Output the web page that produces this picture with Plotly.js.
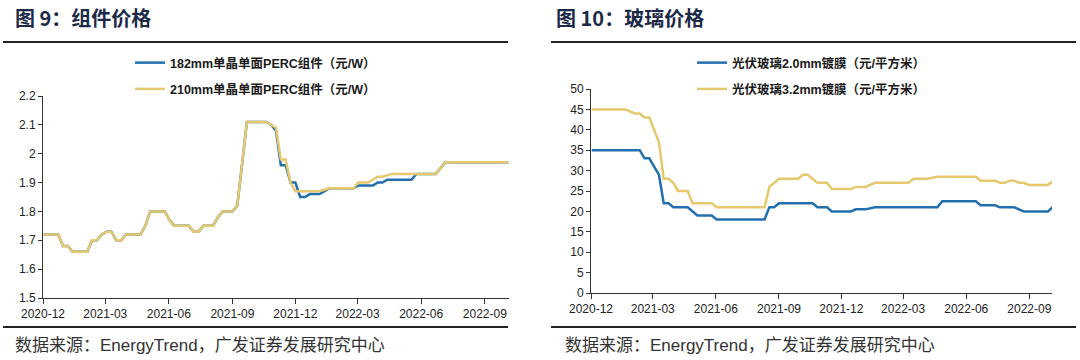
<!DOCTYPE html>
<html>
<head>
<meta charset="utf-8">
<script src="https://cdn.plot.ly/plotly-3.0.1.min.js"></script>
<style>html,body{margin:0;padding:0;background:#fff;}#chart{width:1080px;height:360px;}</style>
</head>
<body>
<div id="chart"></div>
<script>
// ---- 图9 组件价格 (元/W) ----
const moduleDates182 = ["2020-12-02","2020-12-23","2020-12-30","2021-01-06","2021-01-13","2021-02-03","2021-02-10","2021-02-17","2021-02-24","2021-03-03",
  "2021-03-10","2021-03-17","2021-03-24","2021-03-31","2021-04-21","2021-04-28","2021-05-05","2021-05-26","2021-06-02","2021-06-09",
  "2021-06-30","2021-07-07","2021-07-14","2021-07-21","2021-08-04","2021-08-11","2021-08-18","2021-09-01","2021-09-08","2021-09-15",
  "2021-09-22","2021-10-20","2021-10-27","2021-11-03","2021-11-10","2021-11-17","2021-11-24","2021-12-01","2021-12-08","2021-12-15",
  "2021-12-22","2022-01-05","2022-01-19","2022-02-23","2022-03-02","2022-03-23","2022-03-30","2022-04-06","2022-04-13","2022-05-18",
  "2022-05-25","2022-06-22","2022-07-06","2022-10-05"];
const module182 = [1.72,1.72,1.68,1.68,1.66,1.66,1.70,1.70,1.72,1.73,
  1.73,1.70,1.70,1.72,1.72,1.75,1.80,1.80,1.77,1.75,
  1.75,1.73,1.73,1.75,1.75,1.78,1.80,1.80,1.82,1.96,
  2.11,2.11,2.10,2.08,1.96,1.96,1.90,1.90,1.85,1.85,
  1.86,1.86,1.88,1.88,1.89,1.89,1.90,1.90,1.91,1.91,
  1.93,1.93,1.97,1.97];
const moduleDates210 = ["2020-12-02","2020-12-23","2020-12-30","2021-01-06","2021-01-13","2021-02-03","2021-02-10","2021-02-17","2021-02-24","2021-03-03",
  "2021-03-10","2021-03-17","2021-03-24","2021-03-31","2021-04-21","2021-04-28","2021-05-05","2021-05-26","2021-06-02","2021-06-09",
  "2021-06-30","2021-07-07","2021-07-14","2021-07-21","2021-08-04","2021-08-11","2021-08-18","2021-09-01","2021-09-08","2021-09-15",
  "2021-09-22","2021-10-20","2021-10-27","2021-11-03","2021-11-10","2021-11-17","2021-11-24","2021-12-01","2022-01-05","2022-01-19",
  "2022-02-23","2022-03-02","2022-03-16","2022-03-30","2022-04-06","2022-04-20","2022-06-22","2022-07-06","2022-10-05"];
const module210 = [1.72,1.72,1.68,1.68,1.66,1.66,1.70,1.70,1.72,1.73,
  1.73,1.70,1.70,1.72,1.72,1.75,1.80,1.80,1.77,1.75,
  1.75,1.73,1.73,1.75,1.75,1.78,1.80,1.80,1.82,1.96,
  2.11,2.11,2.10,2.09,1.98,1.98,1.90,1.87,1.87,1.88,
  1.88,1.90,1.90,1.92,1.92,1.93,1.93,1.97,1.97];

// ---- 图10 玻璃价格 (元/平方米) ----
const glassDates20 = ["2020-12-02","2021-02-10","2021-02-17","2021-02-24","2021-03-03","2021-03-10","2021-03-17","2021-03-24","2021-03-31","2021-04-21",
  "2021-05-05","2021-05-26","2021-06-02","2021-08-11","2021-08-18","2021-08-25","2021-09-01","2021-10-20","2021-10-27","2021-11-10",
  "2021-11-17","2021-12-15","2021-12-22","2022-01-05","2022-01-19","2022-04-20","2022-04-27","2022-06-15","2022-06-22","2022-07-13",
  "2022-07-20","2022-08-10","2022-08-24","2022-09-28","2022-10-05"];
const glass20 = [35,35,33,33,31,29,22,22,21,21,
  19,19,18,18,21,21,22,22,21,21,
  20,20,20.5,20.5,21,21,22.5,22.5,21.5,21.5,
  21,21,20,20,21];
const glassDates32 = ["2020-12-02","2021-01-20","2021-02-03","2021-02-10","2021-02-17","2021-02-24","2021-03-10","2021-03-17","2021-03-24","2021-03-31",
  "2021-04-07","2021-04-21","2021-04-28","2021-05-26","2021-06-02","2021-08-11","2021-08-18","2021-08-25","2021-09-01","2021-09-29",
  "2021-10-06","2021-10-13","2021-10-27","2021-11-10","2021-11-17","2021-12-15","2021-12-22","2022-01-05","2022-01-19","2022-03-09",
  "2022-03-16","2022-04-06","2022-04-20","2022-06-15","2022-06-22","2022-07-13","2022-07-20","2022-07-27","2022-08-03","2022-08-10",
  "2022-08-17","2022-08-24","2022-08-31","2022-09-28","2022-10-05"];
const glass32 = [45,45,44,44,43,43,37,28,28,27,
  25,25,22,22,21,21,26,27,28,28,
  29,29,27,27,25.5,25.5,26,26,27,27,
  28,28,28.5,28.5,27.5,27.5,27,27,27.5,27.5,
  27,27,26.5,26.5,27.3];

const names = {
  m182: "182mm单晶单面PERC组件（元/W）",
  m210: "210mm单晶单面PERC组件（元/W）",
  g20: "光伏玻璃2.0mm镀膜（元/平方米）",
  g32: "光伏玻璃3.2mm镀膜（元/平方米）"
};
const titles = ["图 9：组件价格", "图 10：玻璃价格"];
const source = "数据来源：EnergyTrend，广发证券发展研究中心";

const BLUE = "#2270b0", GOLD = "#e6c86e";
const W = 1080, H = 360;
const px = v => v / W, py = v => 1 - v / H;

const tickFont = {family: "Liberation Sans, Arial, sans-serif", size: 12, color: "#222"};
const legFont = {family: "Liberation Sans, 'Noto Sans CJK SC', sans-serif", size: 12.5, color: "#1a1a1a", weight: "bold"};
const titleFont = {family: "'Noto Sans CJK SC', sans-serif", size: 20, color: "#1c2a48", weight: "bold"};
const srcFont = {family: "Liberation Sans, 'Noto Sans CJK SC', sans-serif", size: 17, color: "#333"};

const traces = [
  {x: moduleDates182, y: module182, name: names.m182, type: "scatter", mode: "lines", line: {color: BLUE, width: 2.5}, xaxis: "x", yaxis: "y", legend: "legend", legendgroup: "a"},
  {x: moduleDates210, y: module210, name: names.m210, type: "scatter", mode: "lines", line: {color: GOLD, width: 2.5}, xaxis: "x", yaxis: "y", legend: "legend", legendgroup: "b"},
  {x: glassDates20, y: glass20, name: names.g20, type: "scatter", mode: "lines", line: {color: BLUE, width: 2.5}, xaxis: "x2", yaxis: "y2", legend: "legend2", legendgroup: "c"},
  {x: glassDates32, y: glass32, name: names.g32, type: "scatter", mode: "lines", line: {color: GOLD, width: 2.5}, xaxis: "x2", yaxis: "y2", legend: "legend2", legendgroup: "d"}
];

const xCommon = {type: "date", dtick: "M3", tick0: "2020-12-01", tickformat: "%Y-%m", showgrid: false, zeroline: false,
  showline: true, linecolor: "#333", linewidth: 1, ticks: "outside", ticklen: 5, tickcolor: "#333", tickfont: tickFont};
const yCommon = {showgrid: false, zeroline: false, showline: true, linecolor: "#333", linewidth: 1,
  ticks: "outside", ticklen: 4, tickcolor: "#333", tickfont: tickFont};

const legCommon = {font: legFont, bgcolor: "rgba(0,0,0,0)", traceorder: "grouped", tracegroupgap: 7,
  xanchor: "left", yanchor: "top", itemwidth: 30};

const layout = {
  width: W, height: H,
  margin: {l: 0, r: 0, t: 0, b: 0},
  paper_bgcolor: "#fff", plot_bgcolor: "#fff",
  showlegend: true,
  xaxis: Object.assign({}, xCommon, {domain: [px(43), px(509)], range: ["2020-12-01", "2022-10-06"], anchor: "y"}),
  yaxis: Object.assign({}, yCommon, {domain: [py(298), py(96)], range: [1.5, 2.2], dtick: 0.1, anchor: "x"}),
  xaxis2: Object.assign({}, xCommon, {domain: [px(591), px(1052)], range: ["2020-12-01", "2022-10-04"], anchor: "y2"}),
  yaxis2: Object.assign({}, yCommon, {domain: [py(293), py(89)], range: [0, 50], dtick: 5, anchor: "x2"}),
  legend: Object.assign({}, legCommon, {x: px(130), y: py(48)}),
  legend2: Object.assign({}, legCommon, {x: px(692), y: py(48)}),
  shapes: [
    {type: "line", xref: "paper", yref: "paper", x0: px(3), x1: px(508), y0: py(42), y1: py(42), line: {color: "#222", width: 2}},
    {type: "line", xref: "paper", yref: "paper", x0: px(3), x1: px(508), y0: py(327), y1: py(327), line: {color: "#222", width: 2}},
    {type: "line", xref: "paper", yref: "paper", x0: px(551), x1: px(1076), y0: py(42), y1: py(42), line: {color: "#222", width: 2}},
    {type: "line", xref: "paper", yref: "paper", x0: px(551), x1: px(1076), y0: py(327), y1: py(327), line: {color: "#222", width: 2}}
  ],
  annotations: [
    {xref: "paper", yref: "paper", x: px(13), y: py(17), xanchor: "left", yanchor: "middle", showarrow: false, text: titles[0], font: titleFont},
    {xref: "paper", yref: "paper", x: px(554), y: py(17), xanchor: "left", yanchor: "middle", showarrow: false, text: titles[1], font: titleFont},
    {xref: "paper", yref: "paper", x: px(13), y: py(345), xanchor: "left", yanchor: "middle", showarrow: false, text: source, font: srcFont},
    {xref: "paper", yref: "paper", x: px(563), y: py(345), xanchor: "left", yanchor: "middle", showarrow: false, text: source, font: srcFont}
  ]
};

Plotly.newPlot("chart", traces, layout, {displayModeBar: false, staticPlot: true});
</script>
</body>
</html>
